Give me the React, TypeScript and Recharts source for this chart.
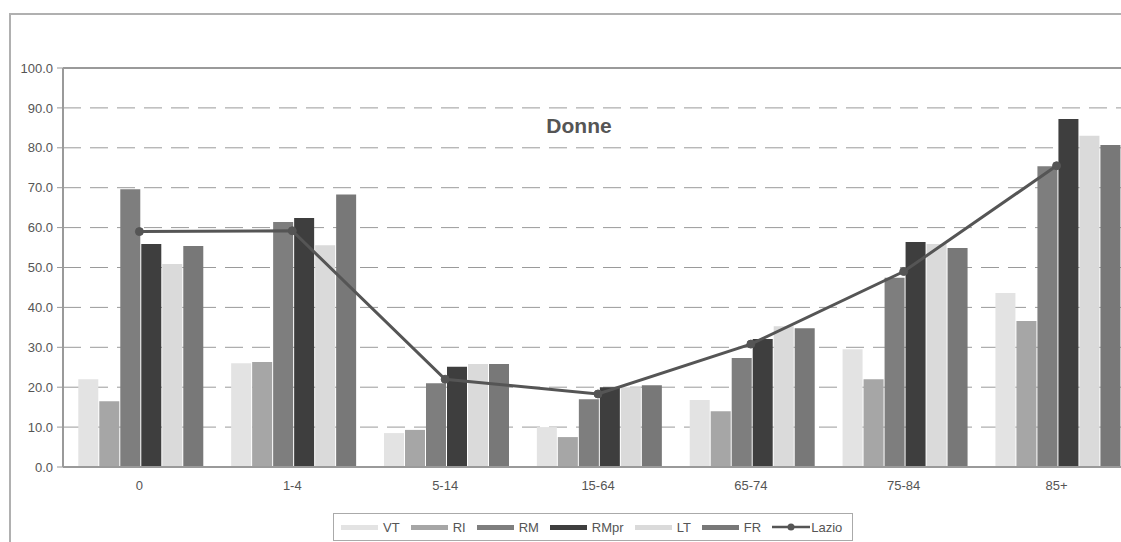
import React from 'react';
import {
  ComposedChart,
  Bar,
  Line,
  XAxis,
  YAxis,
  CartesianGrid,
  ReferenceLine,
} from 'recharts';

// Age groups on the x axis
const categories = ['0', '1-4', '5-14', '15-64', '65-74', '75-84', '85+'];

// Rates per area (women)
const VT = [22.0, 26.0, 8.5, 10.0, 16.8, 29.5, 43.6];
const RI = [16.5, 26.3, 9.3, 7.5, 14.0, 22.0, 36.6];
const RM = [69.6, 61.4, 21.0, 17.0, 27.3, 47.4, 75.4];
const RMpr = [55.9, 62.4, 25.1, 20.0, 32.1, 56.4, 87.2];
const LT = [50.9, 55.6, 25.8, 20.0, 35.3, 55.9, 83.0];
const FR = [55.4, 68.3, 25.8, 20.5, 34.8, 54.9, 80.7];
const Lazio = [59.0, 59.2, 22.0, 18.3, 30.8, 49.0, 75.5];

const yTicks = [0, 10, 20, 30, 40, 50, 60, 70, 80, 90, 100];

const data = categories.map((c, i) => ({
  cat: c,
  VT: VT[i],
  RI: RI[i],
  RM: RM[i],
  RMpr: RMpr[i],
  LT: LT[i],
  FR: FR[i],
  Lazio: Lazio[i],
}));

const barSeries = [
  { key: 'VT', color: '#e3e3e3' },
  { key: 'RI', color: '#a6a6a6' },
  { key: 'RM', color: '#7e7e7e' },
  { key: 'RMpr', color: '#3e3e3e' },
  { key: 'LT', color: '#dadada' },
  { key: 'FR', color: '#787878' },
];

const FONT = '"Liberation Sans", Arial, sans-serif';
const TEXT = '#555';

const LegendBox = () => (
  <div
    style={{
      position: 'absolute',
      left: 333,
      top: 513,
      width: 520,
      height: 28,
      display: 'flex',
      alignItems: 'center',
      border: '1px solid #aaa',
      padding: '0 7px',
      fontFamily: FONT,
      fontSize: 13,
      color: TEXT,
      background: '#fff',
      boxSizing: 'border-box',
    }}
  >
    {barSeries.map((s) => (
      <div key={s.key} style={{ display: 'flex', alignItems: 'center', marginRight: 11 }}>
        <div style={{ width: 37, height: 5, background: s.color, marginRight: 5 }} />
        <span>{s.key}</span>
      </div>
    ))}
    <div style={{ display: 'flex', alignItems: 'center' }}>
      <svg width={38} height={10} style={{ marginRight: 1 }}>
        <line x1={0} y1={5} x2={38} y2={5} stroke="#555" strokeWidth={2.5} />
        <circle cx={19} cy={5} r={3.5} fill="#555" />
      </svg>
      <span>Lazio</span>
    </div>
  </div>
);

export default function App() {
  return (
    <div
      style={{
        position: 'absolute',
        left: 0,
        top: 0,
        width: 1121,
        height: 542,
        overflow: 'hidden',
        background: '#fff',
      }}
    >
      {/* outer frame */}
      <div
        style={{
          position: 'absolute',
          left: 9,
          top: 13,
          width: 1130,
          height: 560,
          border: '2px solid #b0b0b0',
          boxSizing: 'border-box',
        }}
      />
      <div style={{ position: 'absolute', left: 0, top: 0 }}>
        <ComposedChart
          width={1140}
          height={542}
          data={data}
          margin={{ top: 68, right: 7, bottom: 55, left: 0 }}
          barCategoryGap="10%"
          barGap={1}
        >
          <CartesianGrid
            vertical={false}
            stroke="#9a9a9a"
            strokeDasharray="18 9"
            horizontalValues={[10, 20, 30, 40, 50, 60, 70, 80, 90]}
          />
          <ReferenceLine y={100} stroke="#9a9a9a" strokeWidth={2} ifOverflow="visible" />
          <XAxis
            dataKey="cat"
            height={20}
            axisLine={{ stroke: '#9a9a9a', strokeWidth: 2 }}
            tickLine={false}
            tick={{ fill: TEXT, fontSize: 13, fontFamily: FONT }}
            tickMargin={8}
          />
          <YAxis
            width={63}
            domain={[0, 100]}
            ticks={yTicks}
            interval={0}
            allowDataOverflow
            tickFormatter={(v: number) => v.toFixed(1)}
            axisLine={{ stroke: '#9a9a9a', strokeWidth: 2 }}
            tickLine={{ stroke: '#9a9a9a' }}
            tickSize={6}
            tickMargin={4}
            tick={{ fill: TEXT, fontSize: 13, fontFamily: FONT }}
          />
          {barSeries.map((s) => (
            <Bar key={s.key} dataKey={s.key} fill={s.color} isAnimationActive={false} />
          ))}
          <Line
            dataKey="Lazio"
            stroke="#555"
            strokeWidth={3}
            dot={{ r: 4, fill: '#555', stroke: '#555', strokeWidth: 1 }}
            isAnimationActive={false}
          />
          <text
            x={579}
            y={133}
            textAnchor="middle"
            fontFamily={FONT}
            fontWeight="bold"
            fontSize={21}
            fill={TEXT}
          >
            Donne
          </text>
        </ComposedChart>
      </div>
      <LegendBox />
    </div>
  );
}
